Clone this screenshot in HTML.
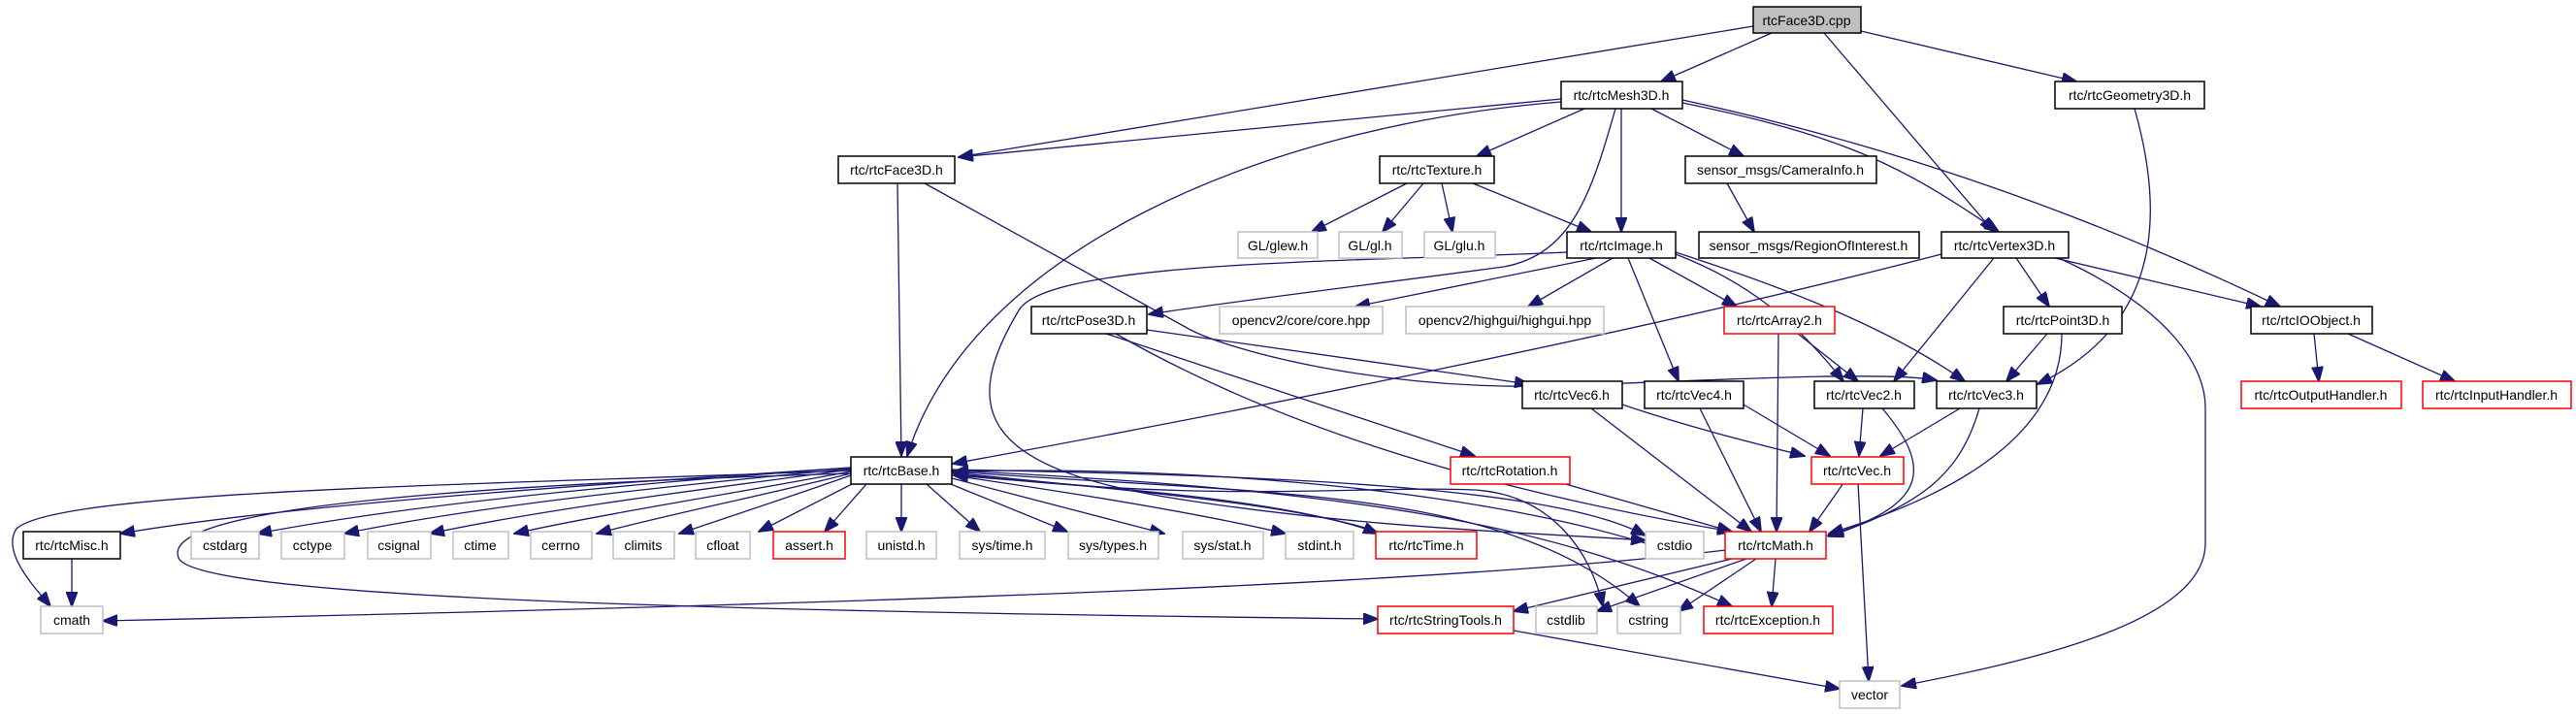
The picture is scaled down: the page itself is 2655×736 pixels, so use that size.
<!DOCTYPE html>
<html><head><meta charset="utf-8"><style>
html,body{margin:0;padding:0;background:#fff}
svg{display:block}
text{font-family:"Liberation Sans",sans-serif;font-size:14px;fill:#000;text-anchor:middle}
.e{fill:none;stroke:#191970;stroke-width:1.3}
.n{fill:#fff;stroke:#000;stroke-width:1.5}
.g{fill:#fff;stroke:#bfbfbf;stroke-width:1.5}
.r{fill:#fff;stroke:#ff0000;stroke-width:1.5}
</style></head><body>
<svg width="2655" height="736" viewBox="0 0 2655 736" xmlns="http://www.w3.org/2000/svg">
<defs><marker id="a" markerUnits="userSpaceOnUse" markerWidth="16" markerHeight="12" refX="15" refY="6" orient="auto"><path d="M0,0 L16,6 L0,12 z" fill="#191970" stroke="#191970"/></marker></defs>
<g class="e" marker-end="url(#a)">
<!-- cpp -->
<path d="M1807,27 L988,162"/>
<path d="M1826,34 L1712,84"/>
<path d="M1880,34 L2055,239"/>
<path d="M1918,32 L2140,84"/>
<!-- Mesh -->
<path d="M1609,102 L988,162"/>
<path d="M1609,105 C1300,130 1000,260 935,470"/>
<path d="M1633,112 L1522,161"/>
<path d="M1671,112 L1671,239"/>
<path d="M1665,112 C1640,200 1620,262 1550,275 C1400,295 1260,312 1184,324"/>
<path d="M1702,112 L1797,161"/>
<path d="M1734,106 C1900,140 1960,170 2060,239"/>
<path d="M1734,103 C1950,150 2150,220 2350,316"/>
<!-- Geo -->
<path d="M2200,112 C2225,200 2240,330 2100,396"/>
<!-- Face -->
<path d="M925,189 L929,470"/>
<path d="M953,189 L1227,340 C1270,362 1420,402 1600,398 C1800,390 1950,383 1996,392"/>
<!-- Texture -->
<path d="M1450,189 L1352,239"/>
<path d="M1467,189 L1425,239"/>
<path d="M1486,189 L1497,239"/>
<path d="M1518,189 L1640,239"/>
<!-- Cam -->
<path d="M1780,189 L1808,239"/>
<!-- Image -->
<path d="M1615,260 C1400,270 1080,268 1050,320 C990,420 1010,480 1200,512 C1400,545 1600,550 1696,557"/>
<path d="M1645,266 L1397,316"/>
<path d="M1662,266 L1575,316"/>
<path d="M1678,266 L1730,393"/>
<path d="M1700,266 L1790,316"/>
<path d="M1727,262 C1800,290 1850,330 1900,393"/>
<path d="M1727,260 C1850,300 1950,340 2025,393"/>
<!-- Vertex -->
<path d="M2001,262 C1700,340 1300,420 982,478"/>
<path d="M2055,266 L1952,393"/>
<path d="M2078,266 L2112,316"/>
<path d="M2118,266 L2330,316"/>
<path d="M2122,266 C2240,320 2273,380 2273,420 L2273,560 C2273,640 2100,680 1960,707"/>
<!-- Pose -->
<path d="M1182,340 L1576,396"/>
<path d="M1140,344 L1520,470"/>
<path d="M1150,344 C1300,430 1500,500 1785,548"/>
<!-- Array2 -->
<path d="M1833,344 L1831,548"/>
<path d="M1853,344 L1915,393"/>
<!-- Point3D -->
<path d="M2110,344 L2068,393"/>
<path d="M2125,344 C2125,430 2050,500 1885,550"/>
<!-- IO -->
<path d="M2385,344 L2390,393"/>
<path d="M2420,344 L2530,393"/>
<!-- Vec6/Vec4/Vec2/Vec3 -->
<path d="M1672,417 C1740,440 1800,455 1860,470"/>
<path d="M1640,421 L1805,548"/>
<path d="M1797,417 L1886,470"/>
<path d="M1752,421 L1815,548"/>
<path d="M1920,421 L1916,470"/>
<path d="M1940,421 C1990,480 1990,520 1884,552"/>
<path d="M2020,421 L1938,470"/>
<path d="M2040,421 C2020,490 1980,520 1885,553"/>
<!-- Rotation / Vec -->
<path d="M1610,498 L1785,548"/>
<path d="M1900,498 L1865,548"/>
<path d="M1915,498 L1926,702"/>
<!-- Misc -->
<path d="M74,576 L74,625"/>
<!-- Base fan -->
<path d="M877,485 C500,500 60,505 17,545 C0,570 40,610 52,625"/>
<path d="M877,482 C600,500 300,520 124,550"/>
<path d="M877,482 C700,495 450,515 265,550"/>
<path d="M877,483 C700,500 500,520 355,550"/>
<path d="M877,484 C720,505 560,525 443,550"/>
<path d="M877,486 C760,508 620,530 530,550"/>
<path d="M877,488 C790,510 690,530 615,550"/>
<path d="M877,490 C820,510 760,530 700,550"/>
<path d="M880,498 L782,548"/>
<path d="M893,499 L850,548"/>
<path d="M929,499 L929,548"/>
<path d="M955,499 L1010,548"/>
<path d="M975,497 L1100,548"/>
<path d="M981,493 L1200,550"/>
<path d="M981,490 C1120,510 1240,530 1325,550"/>
<path d="M981,487 C1150,505 1350,520 1420,550"/>
<path d="M1420,548 C1300,510 1100,500 983,490"/>
<path d="M877,488 C300,505 170,540 184,575 C200,615 700,630 1420,638"/>
<path d="M981,488 C1250,520 1400,500 1520,505 C1600,510 1640,570 1652,625"/>
<path d="M981,486 C1300,510 1550,500 1690,625"/>
<path d="M981,485 C1400,505 1600,540 1785,625"/>
<path d="M981,484 C1300,490 1600,500 1696,552"/>
<path d="M1696,560 C1500,500 1200,480 983,486"/>
<!-- Math -->
<path d="M1779,567 C1500,600 1000,620 106,640"/>
<path d="M1785,576 L1560,630"/>
<path d="M1800,576 L1646,630"/>
<path d="M1810,576 L1730,630"/>
<path d="M1830,576 L1826,625"/>
<!-- Str -->
<path d="M1560,650 L1896,710"/>
</g>
<!-- nodes -->
<g>
<rect x="1807" y="7" width="111" height="27" fill="#bfbfbf" stroke="#000" stroke-width="1.5"/><text x="1862" y="26">rtcFace3D.cpp</text>
<rect class="n" x="1609" y="84" width="125" height="28"/><text x="1671" y="103">rtc/rtcMesh3D.h</text>
<rect class="n" x="2118" y="84" width="154" height="28"/><text x="2195" y="103">rtc/rtcGeometry3D.h</text>
<rect class="n" x="864" y="161" width="120" height="28"/><text x="924" y="180">rtc/rtcFace3D.h</text>
<rect class="n" x="1422" y="161" width="118" height="28"/><text x="1481" y="180">rtc/rtcTexture.h</text>
<rect class="n" x="1737" y="161" width="197" height="28"/><text x="1835" y="180">sensor_msgs/CameraInfo.h</text>
<rect class="g" x="1276" y="239" width="82" height="27"/><text x="1317" y="258">GL/glew.h</text>
<rect class="g" x="1380" y="239" width="65" height="27"/><text x="1412" y="258">GL/gl.h</text>
<rect class="g" x="1468" y="239" width="73" height="27"/><text x="1504" y="258">GL/glu.h</text>
<rect class="n" x="1615" y="239" width="112" height="27"/><text x="1671" y="258">rtc/rtcImage.h</text>
<rect class="n" x="1751" y="239" width="227" height="27"/><text x="1864" y="258">sensor_msgs/RegionOfInterest.h</text>
<rect class="n" x="2001" y="239" width="131" height="27"/><text x="2066" y="258">rtc/rtcVertex3D.h</text>
<rect class="n" x="1063" y="316" width="119" height="28"/><text x="1122" y="335">rtc/rtcPose3D.h</text>
<rect class="g" x="1257" y="316" width="168" height="28"/><text x="1341" y="335">opencv2/core/core.hpp</text>
<rect class="g" x="1449" y="316" width="204" height="28"/><text x="1551" y="335">opencv2/highgui/highgui.hpp</text>
<rect class="r" x="1777" y="316" width="114" height="28"/><text x="1834" y="335">rtc/rtcArray2.h</text>
<rect class="n" x="2065" y="316" width="122" height="28"/><text x="2126" y="335">rtc/rtcPoint3D.h</text>
<rect class="n" x="2320" y="316" width="125" height="28"/><text x="2382" y="335">rtc/rtcIOObject.h</text>
<rect class="n" x="1569" y="393" width="103" height="28"/><text x="1620" y="412">rtc/rtcVec6.h</text>
<rect class="n" x="1695" y="393" width="102" height="28"/><text x="1746" y="412">rtc/rtcVec4.h</text>
<rect class="n" x="1870" y="393" width="103" height="28"/><text x="1921" y="412">rtc/rtcVec2.h</text>
<rect class="n" x="1996" y="393" width="103" height="28"/><text x="2047" y="412">rtc/rtcVec3.h</text>
<rect class="r" x="2310" y="393" width="165" height="28"/><text x="2392" y="412">rtc/rtcOutputHandler.h</text>
<rect class="r" x="2497" y="393" width="153" height="28"/><text x="2573" y="412">rtc/rtcInputHandler.h</text>
<rect class="n" x="877" y="471" width="104" height="28"/><text x="929" y="490">rtc/rtcBase.h</text>
<rect class="r" x="1495" y="471" width="123" height="28"/><text x="1556" y="490">rtc/rtcRotation.h</text>
<rect class="r" x="1867" y="471" width="95" height="28"/><text x="1914" y="490">rtc/rtcVec.h</text>
<rect class="n" x="24" y="548" width="100" height="28"/><text x="74" y="567">rtc/rtcMisc.h</text>
<rect class="g" x="197" y="548" width="70" height="28"/><text x="232" y="567">cstdarg</text>
<rect class="g" x="290" y="548" width="65" height="28"/><text x="322" y="567">cctype</text>
<rect class="g" x="379" y="548" width="65" height="28"/><text x="411" y="567">csignal</text>
<rect class="g" x="467" y="548" width="57" height="28"/><text x="495" y="567">ctime</text>
<rect class="g" x="547" y="548" width="63" height="28"/><text x="578" y="567">cerrno</text>
<rect class="g" x="632" y="548" width="63" height="28"/><text x="663" y="567">climits</text>
<rect class="g" x="717" y="548" width="56" height="28"/><text x="745" y="567">cfloat</text>
<rect class="r" x="797" y="548" width="74" height="28"/><text x="834" y="567">assert.h</text>
<rect class="g" x="893" y="548" width="72" height="28"/><text x="929" y="567">unistd.h</text>
<rect class="g" x="989" y="548" width="88" height="28"/><text x="1033" y="567">sys/time.h</text>
<rect class="g" x="1101" y="548" width="93" height="28"/><text x="1147" y="567">sys/types.h</text>
<rect class="g" x="1219" y="548" width="83" height="28"/><text x="1260" y="567">sys/stat.h</text>
<rect class="g" x="1325" y="548" width="70" height="28"/><text x="1360" y="567">stdint.h</text>
<rect class="r" x="1418" y="548" width="104" height="28"/><text x="1470" y="567">rtc/rtcTime.h</text>
<rect class="g" x="1696" y="548" width="60" height="28"/><text x="1726" y="567">cstdio</text>
<rect class="r" x="1778" y="548" width="104" height="28"/><text x="1830" y="567">rtc/rtcMath.h</text>
<rect class="g" x="42" y="625" width="64" height="28"/><text x="74" y="644">cmath</text>
<rect class="r" x="1420" y="625" width="140" height="28"/><text x="1490" y="644">rtc/rtcStringTools.h</text>
<rect class="g" x="1583" y="625" width="63" height="28"/><text x="1614" y="644">cstdlib</text>
<rect class="g" x="1667" y="625" width="65" height="28"/><text x="1699" y="644">cstring</text>
<rect class="r" x="1756" y="625" width="133" height="28"/><text x="1822" y="644">rtc/rtcException.h</text>
<rect class="g" x="1896" y="702" width="62" height="28"/><text x="1927" y="721">vector</text>
</g>
</svg>
</body></html>
